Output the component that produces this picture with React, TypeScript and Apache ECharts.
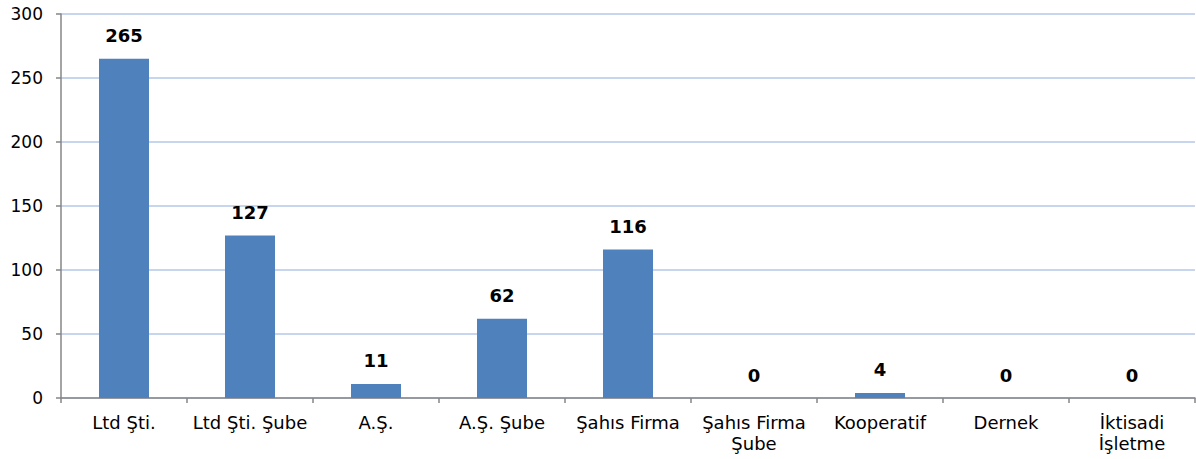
import React, { useEffect, useRef } from "react";
import * as echarts from "echarts";

const categories = [
  "Ltd Şti.",
  "Ltd Şti. Şube",
  "A.Ş.",
  "A.Ş. Şube",
  "Şahıs Firma",
  "Şahıs Firma Şube",
  "Kooperatif",
  "Dernek",
  "İktisadi İşletme",
];
const values = [265, 127, 11, 62, 116, 0, 4, 0, 0];
const yTicks = { min: 0, max: 300, interval: 50 };

const FONT = "'DejaVu Sans', Verdana, sans-serif";

export default function App() {
  const ref = useRef<HTMLDivElement>(null);
  useEffect(() => {
    document.body.style.margin = "0";
    const chart = echarts.init(ref.current!, null, { renderer: "svg" });
    chart.setOption({
      animation: false,
      grid: { left: 61, right: 1, top: 14, bottom: 61, containLabel: false },
      xAxis: {
        type: "category",
        data: categories,
        boundaryGap: true,
        axisLine: { lineStyle: { color: "#868686", width: 1.5 } },
        axisTick: { show: true, length: 5, alignWithLabel: false, lineStyle: { color: "#868686", width: 1.5 } },
        axisLabel: {
          color: "#000",
          fontFamily: FONT,
          fontSize: 18,
          margin: 14,
          lineHeight: 21,
          interval: 0,
          formatter: (v: string) => {
            if (v.length > 14) {
              const i = v.lastIndexOf(" ");
              return v.slice(0, i) + "\n" + v.slice(i + 1);
            }
            return v;
          },
        },
      },
      yAxis: {
        type: "value",
        min: yTicks.min,
        max: yTicks.max,
        interval: yTicks.interval,
        axisLine: { show: true, lineStyle: { color: "#868686", width: 1.5 } },
        axisTick: { show: true, length: 5, lineStyle: { color: "#868686", width: 1.5 } },
        axisLabel: { color: "#000", fontFamily: FONT, fontSize: 17, margin: 18 },
        splitLine: { lineStyle: { color: "#B4C8E8", width: 1.5 } },
      },
      series: [
        {
          type: "bar",
          data: values,
          barWidth: 50,
          itemStyle: { color: "#4F81BD" },
          label: {
            show: true,
            position: "top",
            distance: 14,
            color: "#000",
            fontFamily: FONT,
            fontWeight: "bold",
            fontSize: 18,
          },
        },
      ],
    });
    return () => chart.dispose();
  }, []);
  return <div ref={ref} style={{ width: 1196, height: 459 }} />;
}
